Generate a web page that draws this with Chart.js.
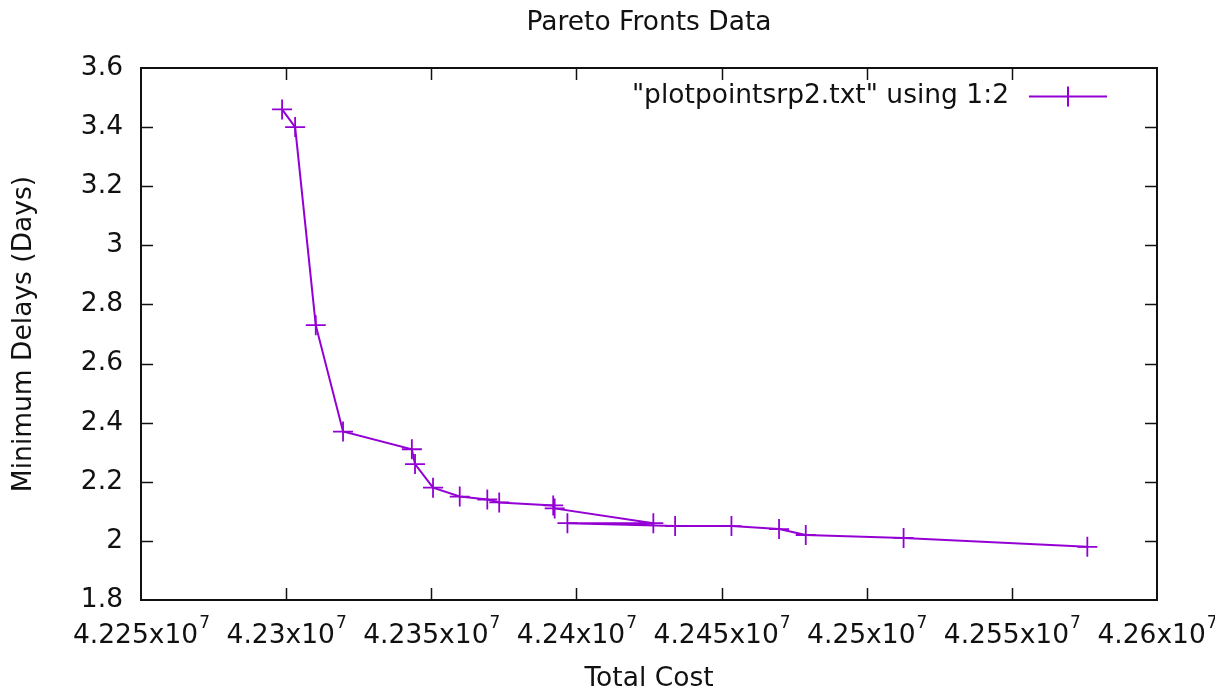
<!DOCTYPE html>
<html>
<head>
<meta charset="utf-8">
<title>Pareto Fronts Data</title>
<script src="https://cdn.jsdelivr.net/npm/chart.js@4.4.0/dist/chart.umd.min.js"></script>
<style>
  html, body { margin: 0; padding: 0; background: #fff; }
  canvas { display: block; }
</style>
</head>
<body>
<canvas id="chart" width="1215" height="695"></canvas>
<script>
// total cost vs minimum delay, in file order
const totalCost = [
  42298600, 42303100, 42310200, 42319600, 42343300, 42344400, 42350600,
  42359800, 42369300, 42373400, 42392000, 42392500, 42426500, 42396900,
  42434000, 42453400, 42469800, 42479000, 42512700, 42576000
];
const minDelays = [
  3.46, 3.40, 2.73, 2.37, 2.31, 2.26, 2.18,
  2.15, 2.14, 2.13, 2.12, 2.11, 2.06, 2.06,
  2.05, 2.05, 2.04, 2.02, 2.01, 1.98
];
const seriesLabel = '"plotpointsrp2.txt" using 1:2';
const chartTitle = 'Pareto Fronts Data';

const FONT = 'DejaVu Sans';
const FSIZE = 26.5;
const SUPSIZE = 17;
const PURPLE = '#9400d3';
const INK = '#111';

const points = totalCost.map((x, i) => ({ x, y: minDelays[i] }));

const mantissa = v => (v / 1e7).toFixed(4).replace(/0+$/, '');

// gnuplot style frame: full border + inward ticks on all four sides,
// title over the plot, and x labels written as mantissa x 10 with a raised 7
const framePlugin = {
  id: 'frame',
  beforeDatasetsDraw(chart) {
    const { ctx, chartArea: a, scales: { x, y } } = chart;
    ctx.save();
    ctx.strokeStyle = INK;
    ctx.lineWidth = 1.5;
    ctx.beginPath();
    x.ticks.forEach((t, i) => {
      if (i === 0 || i === x.ticks.length - 1) return;
      const px = Math.round(x.getPixelForValue(t.value)) + 0.5;
      ctx.moveTo(px, a.bottom); ctx.lineTo(px, a.bottom - 12);
      ctx.moveTo(px, a.top); ctx.lineTo(px, a.top + 12);
    });
    y.ticks.forEach((t, i) => {
      if (i === 0 || i === y.ticks.length - 1) return;
      const py = Math.round(y.getPixelForValue(t.value)) + 0.5;
      ctx.moveTo(a.left, py); ctx.lineTo(a.left + 12, py);
      ctx.moveTo(a.right, py); ctx.lineTo(a.right - 12, py);
    });
    ctx.stroke();
    ctx.lineWidth = 2;
    ctx.strokeRect(a.left, a.top, a.right - a.left, a.bottom - a.top);

    ctx.fillStyle = INK;
    ctx.font = FSIZE + 'px "' + FONT + '"';
    ctx.textAlign = 'center';
    ctx.textBaseline = 'middle';
    ctx.fillText(chartTitle, (a.left + a.right) / 2, 23);

    ctx.textAlign = 'left';
    ctx.textBaseline = 'alphabetic';
    const supFont = SUPSIZE + 'px "' + FONT + '"';
    const baseFont = FSIZE + 'px "' + FONT + '"';
    x.ticks.forEach(t => {
      const base = mantissa(t.value) + 'x10';
      ctx.font = baseFont;
      const wb = ctx.measureText(base).width;
      ctx.font = supFont;
      const ws = ctx.measureText('7').width;
      const x0 = x.getPixelForValue(t.value) - (wb + ws) / 2;
      ctx.font = baseFont;
      ctx.fillText(base, x0, a.bottom + 43);
      ctx.font = supFont;
      ctx.fillText('7', x0 + wb + 1, a.bottom + 28);
    });
    ctx.restore();
  }
};

// key in the top right corner: text, then line sample with marker
const keyPlugin = {
  id: 'key',
  afterDraw(chart) {
    const { ctx } = chart;
    const ds = chart.data.datasets[0];
    const yk = 96.5;
    ctx.save();
    ctx.font = FSIZE + 'px "' + FONT + '"';
    ctx.fillStyle = INK;
    ctx.textAlign = 'right';
    ctx.textBaseline = 'middle';
    ctx.fillText(ds.label, 1009, yk);
    ctx.strokeStyle = PURPLE;
    ctx.lineWidth = 2;
    ctx.beginPath();
    ctx.moveTo(1029, yk); ctx.lineTo(1107, yk);
    ctx.moveTo(1068, yk - 10); ctx.lineTo(1068, yk + 10);
    ctx.stroke();
    ctx.restore();
  }
};

new Chart(document.getElementById('chart'), {
  type: 'line',
  data: {
    datasets: [{
      label: seriesLabel,
      data: points,
      borderColor: PURPLE,
      backgroundColor: PURPLE,
      borderWidth: 2,
      pointStyle: 'cross',
      pointRadius: 10,
      pointHoverRadius: 10,
      pointBorderWidth: 1.8,
      pointBorderColor: PURPLE,
      tension: 0,
      fill: false
    }]
  },
  options: {
    responsive: false,
    animation: false,
    devicePixelRatio: 1,
    layout: { padding: { left: 0, right: 58, top: 68, bottom: 0 } },
    plugins: {
      legend: { display: false },
      tooltip: { enabled: false },
      title: { display: false }
    },
    scales: {
      x: {
        type: 'linear',
        min: 42250000,
        max: 42600000,
        border: { display: false },
        grid: { display: false, drawTicks: false },
        ticks: {
          display: false,
          stepSize: 50000,
          autoSkip: false,
          maxRotation: 0
        },
        title: {
          display: true,
          text: 'Total Cost',
          color: INK,
          font: { family: FONT, size: FSIZE },
          padding: { top: 0, bottom: 0 }
        },
        afterFit(scale) {
          scale.height = 95;
          scale.paddingLeft = 0;
          scale.paddingRight = 0;
        }
      },
      y: {
        type: 'linear',
        min: 1.8,
        max: 3.6,
        border: { display: false },
        grid: { display: false, drawTicks: false },
        ticks: {
          stepSize: 0.2,
          padding: 18,
          color: INK,
          font: { family: FONT, size: FSIZE },
          callback: v => String(Math.round(v * 10) / 10)
        },
        title: {
          display: true,
          text: 'Minimum Delays (Days)',
          color: INK,
          font: { family: FONT, size: FSIZE },
          padding: { top: 8, bottom: 0 }
        },
        afterFit(scale) {
          scale.width = 141;
          scale.paddingTop = 0;
          scale.paddingBottom = 0;
        }
      }
    }
  },
  plugins: [framePlugin, keyPlugin]
});
</script>
</body>
</html>
